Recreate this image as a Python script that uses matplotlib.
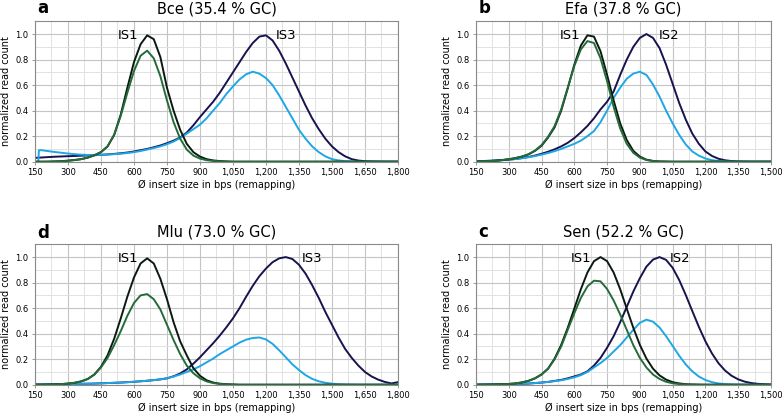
import numpy as np
import matplotlib
matplotlib.use('Agg')
import matplotlib.pyplot as plt
from matplotlib.ticker import MultipleLocator, FuncFormatter

# sample positions (bp)
x_long = np.arange(150, 1801, 30)    # panels a, d  (150 .. 1800)
x_short = np.arange(150, 1501, 30)   # panels b, c  (150 .. 1500)

# ---- a: Bce (35.4 % GC) ----
bce_black = [0, 0, 0, 0.002, 0.004, 0.008, 0.013, 0.02, 0.032, 0.05, 0.075, 0.12, 0.21, 0.37,
             0.58, 0.78, 0.92, 0.99, 0.96, 0.82, 0.58, 0.4, 0.25, 0.14, 0.075, 0.04, 0.02, 0.01,
             0.005, 0.002] + [0] * 26
bce_green = [0, 0, 0.001, 0.002, 0.004, 0.008, 0.013, 0.02, 0.032, 0.05, 0.075, 0.12, 0.21, 0.36,
             0.54, 0.71, 0.83, 0.87, 0.81, 0.67, 0.48, 0.31, 0.18, 0.095, 0.048, 0.024, 0.012,
             0.006, 0.003, 0.001] + [0] * 26
bce_navy = [0.03, 0.033, 0.036, 0.039, 0.041, 0.043, 0.045, 0.047, 0.049, 0.051, 0.054, 0.057,
            0.061, 0.066, 0.072, 0.08, 0.09, 0.1, 0.113, 0.127, 0.145, 0.165, 0.19, 0.228, 0.285,
            0.35, 0.41, 0.47, 0.54, 0.62, 0.7, 0.78, 0.86, 0.93, 0.98, 0.99, 0.95, 0.87, 0.77,
            0.66, 0.55, 0.44, 0.34, 0.255, 0.18, 0.12, 0.075, 0.042, 0.02, 0.009, 0.004, 0.002,
            0.001, 0, 0, 0]
bce_light_x = [165, 168] + list(x_long[1:])
bce_light = [0, 0.09, 0.09, 0.083, 0.076, 0.07, 0.064, 0.059, 0.055, 0.053, 0.053, 0.054, 0.056,
             0.059, 0.063, 0.068, 0.075, 0.084, 0.095, 0.107, 0.12, 0.137, 0.158, 0.185, 0.22,
             0.255, 0.29, 0.34, 0.4, 0.46, 0.53, 0.59, 0.645, 0.685, 0.705, 0.69, 0.655, 0.6,
             0.52, 0.43, 0.34, 0.25, 0.18, 0.12, 0.075, 0.042, 0.02, 0.01, 0.004, 0.002,
             0, 0, 0, 0, 0, 0, 0]

# ---- b: Efa (37.8 % GC) ----
efa_black = [0.002, 0.003, 0.005, 0.008, 0.013, 0.019, 0.028, 0.04, 0.057, 0.085, 0.125, 0.19,
             0.27, 0.4, 0.575, 0.76, 0.91, 0.99, 0.98, 0.865, 0.68, 0.48, 0.3, 0.17, 0.085,
             0.04, 0.016, 0.006, 0.002, 0.001] + [0] * 16
efa_green = [0.002, 0.003, 0.005, 0.008, 0.013, 0.019, 0.028, 0.04, 0.058, 0.087, 0.13, 0.195,
             0.28, 0.41, 0.58, 0.75, 0.88, 0.945, 0.93, 0.81, 0.63, 0.43, 0.26, 0.14, 0.07,
             0.032, 0.013, 0.005, 0.002, 0.001] + [0] * 16
efa_navy = [0.003, 0.005, 0.007, 0.009, 0.012, 0.016, 0.021, 0.028, 0.037, 0.048, 0.062, 0.078,
            0.097, 0.12, 0.148, 0.185, 0.23, 0.28, 0.34, 0.41, 0.47, 0.55, 0.68, 0.8, 0.9, 0.97,
            1.0, 0.97, 0.89, 0.76, 0.61, 0.46, 0.33, 0.22, 0.14, 0.08, 0.045, 0.023, 0.011,
            0.005, 0.002, 0.001, 0, 0, 0, 0]
efa_light = [0.003, 0.005, 0.007, 0.009, 0.012, 0.016, 0.021, 0.027, 0.035, 0.044, 0.055, 0.068,
             0.083, 0.1, 0.12, 0.14, 0.165, 0.2, 0.24, 0.31, 0.4, 0.5, 0.58, 0.65, 0.69, 0.705,
             0.68, 0.605, 0.51, 0.4, 0.3, 0.21, 0.135, 0.08, 0.047, 0.025, 0.012, 0.006, 0.003,
             0.001, 0, 0, 0, 0, 0, 0]

# ---- d: Mlu (73.0 % GC) ----
mlu_black = [0, 0, 0.001, 0.003, 0.005, 0.009, 0.015, 0.026, 0.045, 0.08, 0.14, 0.23, 0.36, 0.52,
             0.69, 0.84, 0.95, 0.99, 0.95, 0.83, 0.67, 0.49, 0.34, 0.23, 0.13, 0.07, 0.035,
             0.017, 0.008, 0.004, 0.002] + [0] * 25
mlu_green = [0, 0, 0.001, 0.003, 0.005, 0.009, 0.015, 0.026, 0.045, 0.08, 0.135, 0.21, 0.31,
             0.42, 0.54, 0.64, 0.7, 0.71, 0.67, 0.59, 0.47, 0.35, 0.24, 0.15, 0.09, 0.05, 0.026,
             0.013, 0.006, 0.003, 0.001] + [0] * 25
mlu_navy = [0.002, 0.002, 0.003, 0.003, 0.004, 0.005, 0.006, 0.007, 0.008, 0.009, 0.011, 0.013,
            0.015, 0.017, 0.02, 0.023, 0.027, 0.031, 0.036, 0.042, 0.05, 0.066, 0.088, 0.12,
            0.165, 0.215, 0.27, 0.325, 0.385, 0.45, 0.52, 0.6, 0.69, 0.775, 0.85, 0.91, 0.96,
            0.99, 1.0, 0.985, 0.94, 0.87, 0.78, 0.68, 0.57, 0.47, 0.37, 0.28, 0.21, 0.15, 0.1,
            0.065, 0.04, 0.022, 0.01, 0.02]
mlu_light = [0.002, 0.002, 0.003, 0.003, 0.004, 0.005, 0.006, 0.007, 0.008, 0.009, 0.011, 0.013,
             0.015, 0.017, 0.02, 0.023, 0.027, 0.031, 0.036, 0.042, 0.05, 0.064, 0.08, 0.1,
             0.12, 0.145, 0.175, 0.205, 0.24, 0.27, 0.3, 0.33, 0.353, 0.366, 0.37, 0.355, 0.32,
             0.27, 0.215, 0.16, 0.115, 0.075, 0.046, 0.027, 0.015, 0.008, 0.004, 0.002, 0.001,
             0, 0, 0, 0, 0, 0, 0]

# ---- c: Sen (52.2 % GC) ----
sen_black = [0, 0, 0.001, 0.002, 0.004, 0.006, 0.01, 0.018, 0.03, 0.05, 0.08, 0.126, 0.205,
             0.312, 0.446, 0.596, 0.748, 0.879, 0.968, 1.0, 0.968, 0.879, 0.748, 0.596, 0.446,
             0.312, 0.205, 0.126, 0.073, 0.04, 0.02, 0.01, 0.004, 0.002, 0.001] + [0] * 11
sen_green = [0, 0, 0.001, 0.002, 0.004, 0.006, 0.01, 0.018, 0.03, 0.05, 0.08, 0.126, 0.2, 0.3,
             0.43, 0.56, 0.68, 0.77, 0.815, 0.81, 0.75, 0.66, 0.55, 0.43, 0.31, 0.21, 0.135,
             0.08, 0.045, 0.023, 0.011, 0.005, 0.002, 0.001] + [0] * 12
sen_navy = [0.001, 0.002, 0.002, 0.003, 0.004, 0.005, 0.006, 0.007, 0.009, 0.013, 0.017, 0.022,
            0.03, 0.038, 0.05, 0.065, 0.08, 0.105, 0.15, 0.21, 0.29, 0.38, 0.49, 0.61, 0.73,
            0.835, 0.925, 0.98, 1.0, 0.978, 0.916, 0.82, 0.703, 0.577, 0.453, 0.34, 0.245,
            0.168, 0.111, 0.07, 0.042, 0.024, 0.013, 0.007, 0.004, 0.002]
sen_light = [0.001, 0.002, 0.002, 0.003, 0.004, 0.005, 0.006, 0.008, 0.01, 0.013, 0.017, 0.022,
             0.028, 0.035, 0.045, 0.058, 0.075, 0.1, 0.135, 0.17, 0.21, 0.26, 0.31, 0.37, 0.43,
             0.485, 0.51, 0.494, 0.448, 0.38, 0.304, 0.227, 0.159, 0.105, 0.064, 0.037, 0.02,
             0.01, 0.005, 0.002, 0.001, 0, 0, 0, 0, 0]

C_BLACK = '#0b1a10'
C_GREEN = '#256b3a'
C_NAVY = '#16134f'
C_LIGHT = '#1fa6e6'

panels = [
  # letter, title, rect, letter y, x, xmax, black, green, light x, light, navy,
  # second label, IS1 x, IS2 x
  ('a', 'Bce (35.4 % GC)', [0.0446, 0.615, 0.463, 0.3343], 0.969, x_long, 1800,
   bce_black, bce_green, bce_light_x, bce_light, bce_navy, 'IS3', 618, 1245),
  ('b', 'Efa (37.8 % GC)', [0.6071, 0.615, 0.3763, 0.3343], 0.969, x_short, 1500,
   efa_black, efa_green, x_short, efa_light, efa_navy, 'IS2', 630, 986),
  ('d', 'Mlu (73.0 % GC)', [0.0446, 0.084, 0.463, 0.3343], 0.434, x_long, 1800,
   mlu_black, mlu_green, x_long, mlu_light, mlu_navy, 'IS3', 620, 1362),
  ('c', 'Sen (52.2 % GC)', [0.6071, 0.084, 0.3763, 0.3343], 0.436, x_short, 1500,
   sen_black, sen_green, x_short, sen_light, sen_navy, 'IS2', 678, 1035),
]

fig = plt.figure(figsize=(7.84, 4.2), dpi=100)

for (letter, title, rect, letter_y, xs, xmax, black, green, lx, light, navy,
     is2, is1_x, is2_x) in panels:
  ax = fig.add_axes(rect)
  ax.plot(xs, navy, color=C_NAVY, lw=1.4)
  ax.plot(lx, light, color=C_LIGHT, lw=1.4)
  ax.plot(xs, black, color=C_BLACK, lw=1.4)
  ax.plot(xs, green, color=C_GREEN, lw=1.4)

  ax.set_xlim(150, xmax)
  ax.set_ylim(0, 1.1)
  ax.xaxis.set_major_locator(MultipleLocator(150))
  ax.xaxis.set_minor_locator(MultipleLocator(75))
  ax.yaxis.set_major_locator(MultipleLocator(0.2))
  ax.yaxis.set_minor_locator(MultipleLocator(0.1))
  ax.xaxis.set_major_formatter(FuncFormatter(lambda v, p: f'{int(round(v)):,}'))
  ax.yaxis.set_major_formatter(FuncFormatter(lambda v, p: f'{v:.1f}'))
  ax.grid(which='major', color='#c4c4c4', lw=0.8)
  ax.grid(which='minor', color='#e2e2e2', lw=0.7)
  ax.set_axisbelow(True)
  for s in ax.spines.values():
    s.set_color('#8a8a8a')
    s.set_linewidth(0.8)
  ax.tick_params(which='major', length=2.5, width=0.6, color='#8a8a8a',
                 labelsize=6, pad=2)
  ax.tick_params(which='minor', length=0)

  ax.set_xlabel('Ø insert size in bps (remapping)', fontsize=7, labelpad=2)
  ax.set_ylabel('normalized read count', fontsize=7, labelpad=3)
  ax.set_title(title, fontsize=10.5, pad=5.5)

  ax.text(is1_x, 0.965, 'IS1', fontsize=9.5, ha='right', va='baseline')
  ax.text(is2_x, 0.965, is2, fontsize=9.5, ha='left', va='baseline')

  fig.text(rect[0] + 0.003, letter_y, letter, fontsize=12, weight='bold',
           ha='left', va='baseline')

fig.savefig('out.png', dpi=100)
